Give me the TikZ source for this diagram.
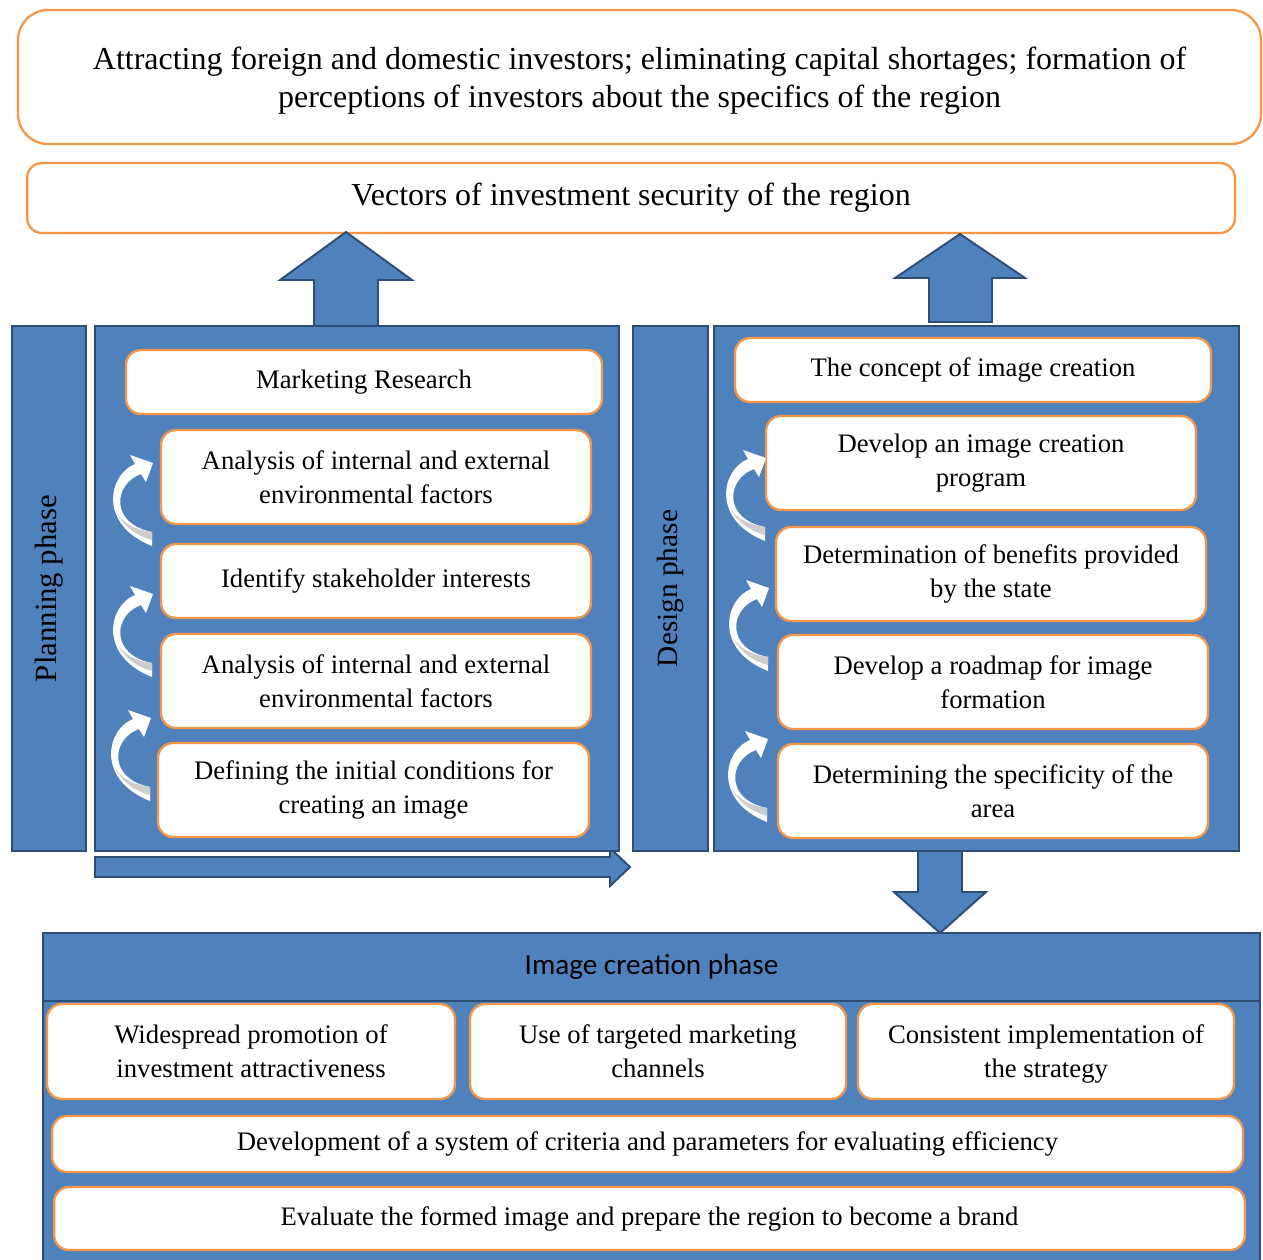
\documentclass[tikz,border=0pt]{standalone}
\usepackage{fontspec}
\setmainfont{Liberation Serif}
\newfontfamily\calibfont{Carlito}
\usepackage{tikz}
\usetikzlibrary{positioning}
\definecolor{panelblue}{HTML}{4F81BD}
\definecolor{paneledge}{HTML}{2E4D74}
\definecolor{boxorange}{HTML}{F79646}
\definecolor{shadegray}{HTML}{CDCDCD}
\tikzset{
  orangebox/.style = {draw = boxorange, line width = 1.3pt, fill = white, rounded corners = 0.3cm,
    align = center, inner sep = 0pt, font = \fontsize{15.2}{19.5}\selectfont},
  bluebox/.style = {draw = paneledge, line width = 1.1pt, fill = panelblue, inner sep = 0pt},
  blockarrow/.style = {draw = paneledge, line width = 1.1pt, fill = panelblue, line join = miter},
  phasetext/.style = {rotate = 90, font = \fontsize{17.5}{20}\selectfont},
  pics/turnarrow/.style = {code = {
    \fill [white] (27,12) .. controls (1,22) and (-11,72) .. (44,94) -- (44,80)
      .. controls (2,72) and (5,32) .. (33,22) -- (38,30) -- (45,11) -- (22,3) -- cycle;
    \fill [shadegray] (44,80) .. controls (22,77) and (11,67) .. (7,57)
      .. controls (14,73) and (28,84) .. (44,88) -- cycle;
  }},
}

\begin{document}
\begin{tikzpicture}[x = 0.02cm, y = -0.02cm]
			\useasboundingbox (0,0) rectangle (1263,1259);

			\begin{scope}
				\draw [draw = boxorange, line width = 1.3pt, rounded corners = 0.6cm] (18,10) rectangle (1261,144);
				\node (goals) [align = center, font = \fontsize{18.2}{21.6}\selectfont] at (639.5,81)
					{Attracting foreign and domestic investors; eliminating capital shortages; formation of\\
					perceptions of investors about the specifics of the region};
				\node (vectors) [orangebox, font = \fontsize{18.2}{21.6}\selectfont,
					minimum width = 24.16cm, minimum height = 1.4cm] at (631,198)
					{Vectors of investment security of the region};
			\end{scope}

			\begin{scope}[blockarrow]
				\filldraw (314,326) -- (314,280) -- (280,280) -- (346,232) -- (412,280) -- (378,280) -- (378,326) -- cycle;
				\filldraw (929,322) -- (929,278) -- (895,278) -- (960,234) -- (1025,278) -- (992,278) -- (992,322) -- cycle;
				\filldraw (95,857) -- (610,857) -- (610,848) -- (630,867) -- (610,886) -- (610,877) -- (95,877) -- cycle;
				\filldraw (918,851) -- (918,892) -- (894,892) -- (940,933) -- (986,892) -- (962,892) -- (962,851) -- cycle;
			\end{scope}

			\node (planbar) [bluebox, minimum width = 1.48cm, minimum height = 10.5cm] at (49,588.5) {};
			\node [phasetext] at (planbar.center) {Planning phase};
			\node (planpanel) [bluebox, minimum width = 10.48cm, minimum height = 10.5cm] at (357,588.5) {};
			\node (designbar) [bluebox, minimum width = 1.5cm, minimum height = 10.5cm] at (670.5,588.5) {};
			\node [phasetext, font = \fontsize{16.7}{20}\selectfont] at (designbar.center) {Design phase};
			\node (designpanel) [bluebox, minimum width = 10.5cm, minimum height = 10.5cm] at (976.5,588.5) {};

			\node (research) [orangebox, minimum width = 9.52cm, minimum height = 1.28cm] at (364,382) {Marketing Research};
			\node (factorsA) [orangebox, minimum width = 8.6cm, minimum height = 1.88cm] at (376,477)
				{Analysis of internal and external\\ environmental factors};
			\node (stakes) [orangebox, minimum width = 8.6cm, minimum height = 1.48cm] at (376,581) {Identify stakeholder interests};
			\node (factorsB) [orangebox, minimum width = 8.6cm, minimum height = 1.88cm] at (376,681)
				{Analysis of internal and external\\ environmental factors};
			\node (initial) [orangebox, minimum width = 8.62cm, minimum height = 1.88cm] at (373.5,790)
				{Defining the initial conditions for\\ creating an image};

			\node (concept) [orangebox, minimum width = 9.52cm, minimum height = 1.28cm] at (973,370) {The concept of image creation};
			\node (program) [orangebox, minimum width = 8.6cm, minimum height = 1.88cm] at (981,463)
				{Develop an image creation\\ program};
			\node (benefits) [orangebox, minimum width = 8.6cm, minimum height = 1.88cm] at (991,574)
				{Determination of benefits provided\\ by the state};
			\node (roadmap) [orangebox, minimum width = 8.6cm, minimum height = 1.88cm] at (993,682)
				{Develop a roadmap for image\\ formation};
			\node (specific) [orangebox, minimum width = 8.6cm, minimum height = 1.88cm] at (993,791)
				{Determining the specificity of the\\ area};

			\pic at (108,452) {turnarrow};
			\pic at (108,583) {turnarrow};
			\pic at (106,707) {turnarrow};
			\pic at (721,447) {turnarrow};
			\pic at (724,577) {turnarrow};
			\pic at (723,728) {turnarrow};

			\draw [bluebox] (43,1001) rectangle (1260,1263);
			\node (imagebar) [bluebox, minimum width = 24.34cm, minimum height = 1.36cm,
				font = \calibfont\fontsize{16.6}{18}\selectfont] at (651.5,967) {Image creation phase};

			\node (promote) [orangebox, minimum width = 8.16cm, minimum height = 1.9cm] at (251,1051.5)
				{Widespread promotion of\\ investment attractiveness};
			\node (channels) [orangebox, minimum width = 7.52cm, minimum height = 1.9cm] at (658,1051.5)
				{Use of targeted marketing\\ channels};
			\draw [draw = boxorange, line width = 1.3pt, fill = white, rounded corners = 0.3cm] (858,1004) rectangle (1234,1099);
			\node (strategy) [align = center, font = \fontsize{15.2}{19.5}\selectfont] at (1046,1054)
				{Consistent implementation of\\ the strategy};
			\node (criteria) [orangebox, minimum width = 23.82cm, minimum height = 1.12cm] at (647.5,1144)
				{Development of a system of criteria and parameters for evaluating efficiency};
			\node (brand) [orangebox, minimum width = 23.82cm, minimum height = 1.26cm] at (649.5,1218.5)
				{Evaluate the formed image and prepare the region to become a brand};
		\end{tikzpicture}
\end{document}
